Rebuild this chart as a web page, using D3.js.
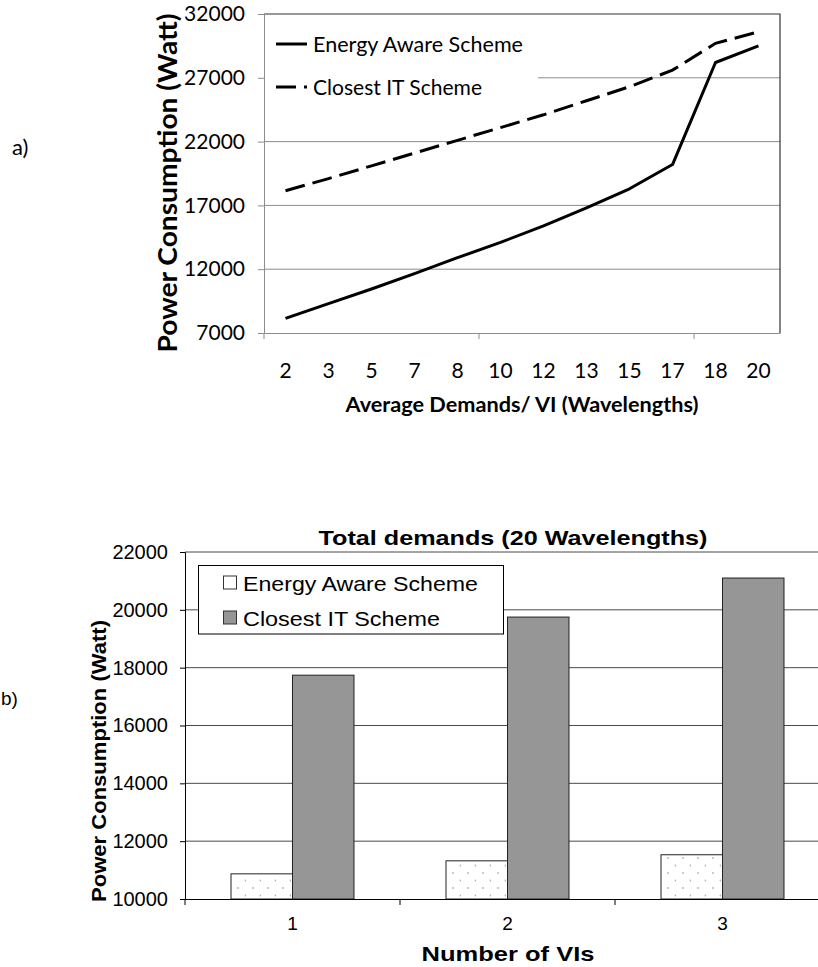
<!DOCTYPE html>
<html>
<head>
<meta charset="utf-8">
<script src="https://cdn.jsdelivr.net/npm/d3@7"></script>
<style>
  body { margin: 0; background: #fff; }
</style>
</head>
<body>
<svg id="chart"></svg>
<script>
// chart a) data
const demands = ["2", "3", "5", "7", "8", "10", "12", "13", "15", "17", "18", "20"];
const energyAware = [8150, 9300, 10450, 11650, 12900, 14100, 15400, 16800, 18300, 20200, 28200, 29500];
const closestIT = [18150, 19100, 20100, 21100, 22100, 23100, 24100, 25200, 26300, 27600, 29700, 30600];
const aTicks = [7000, 12000, 17000, 22000, 27000, 32000];

// chart b) data
const vis = ["1", "2", "3"];
const energyAwareB = [10870, 11320, 11530];
const closestITB = [17740, 19750, 21100];
const bTicks = [10000, 12000, 14000, 16000, 18000, 20000, 22000];

const calibri = "Lato, 'Open Sans', sans-serif";
const arial = "'Liberation Sans', Arial, sans-serif";

const svg = d3.select("#chart").attr("width", 818).attr("height", 967);

// ---------- a) line chart ----------
const ax = d3.scaleBand().domain(demands).range([264, 780]);
const axIdx = d3.scaleLinear().domain([0, demands.length]).range([264, 780]);
const ay = d3.scaleLinear().domain([7000, 32000]).range([333, 14]);

svg.append("g")
  .selectAll("line")
  .data(aTicks.slice(1, -1))
  .enter().append("line")
  .attr("x1", 264).attr("x2", 780)
  .attr("y1", d => ay(d)).attr("y2", d => ay(d))
  .attr("stroke", "#8c8c8c").attr("stroke-width", 1);

// legend background hides the grid behind it
svg.append("rect").attr("x", 265).attr("y", 16).attr("width", 273).attr("height", 90).attr("fill", "#fff");

// plot border top / right
svg.append("path")
  .attr("d", `M264,${ay(32000)}H780V${ay(7000)}`)
  .attr("fill", "none").attr("stroke", "#333").attr("stroke-width", 1.2);

const ayAxis = svg.append("g")
  .attr("transform", "translate(264,0)")
  .call(d3.axisLeft(ay).tickValues(aTicks).tickSize(6).tickPadding(13).tickFormat(d3.format("d")));
ayAxis.select(".domain").attr("stroke", "#8c8c8c");
ayAxis.selectAll(".tick line").attr("stroke", "#8c8c8c");
ayAxis.selectAll("text").attr("font-family", calibri).attr("font-size", 21).attr("fill", "#000");

const axAxis = svg.append("g")
  .attr("transform", `translate(0,${ay(7000)})`)
  .call(d3.axisBottom(ax).tickSize(0).tickPadding(30));
axAxis.select(".domain").attr("stroke", "#8c8c8c");
axAxis.selectAll("text").attr("font-family", calibri).attr("font-size", 21).attr("fill", "#000");

// tick marks every 5 categories
svg.append("g")
  .selectAll("line")
  .data([0, 5, 10])
  .enter().append("line")
  .attr("x1", d => axIdx(d)).attr("x2", d => axIdx(d))
  .attr("y1", ay(7000)).attr("y2", ay(7000) + 6)
  .attr("stroke", "#8c8c8c");

const lineA = d3.line()
  .x((d, i) => ax(demands[i]) + ax.bandwidth() / 2)
  .y(d => ay(d));

svg.append("path")
  .datum(energyAware)
  .attr("d", lineA)
  .attr("fill", "none").attr("stroke", "#000").attr("stroke-width", 3)
  .attr("stroke-linejoin", "round");

svg.append("path")
  .datum(closestIT)
  .attr("d", lineA)
  .attr("fill", "none").attr("stroke", "#000").attr("stroke-width", 3)
  .attr("stroke-dasharray", "20,8");

// legend a
const legA = [
  { name: "Energy Aware Scheme", dash: null, y: 44, w: 210 },
  { name: "Closest IT Scheme", dash: "20,8", y: 87, w: 169 }
];
legA.forEach(l => {
  svg.append("line")
    .attr("x1", 276).attr("x2", 307).attr("y1", l.y).attr("y2", l.y)
    .attr("stroke", "#000").attr("stroke-width", 3)
    .attr("stroke-dasharray", l.dash);
  svg.append("text")
    .attr("x", 313).attr("y", l.y + 8)
    .attr("font-family", calibri).attr("font-size", 22)
    .attr("textLength", l.w).attr("lengthAdjust", "spacingAndGlyphs")
    .text(l.name);
});

svg.append("text")
  .attr("transform", "translate(177,183)rotate(-90)")
  .attr("text-anchor", "middle")
  .attr("font-family", calibri).attr("font-size", 26).attr("font-weight", "bold")
  .attr("textLength", 339).attr("lengthAdjust", "spacingAndGlyphs")
  .text("Power Consumption (Watt)");

svg.append("text")
  .attr("x", 522).attr("y", 412)
  .attr("text-anchor", "middle")
  .attr("font-family", calibri).attr("font-size", 20).attr("font-weight", "bold")
  .attr("textLength", 353).attr("lengthAdjust", "spacingAndGlyphs")
  .text("Average Demands/ VI (Wavelengths)");

svg.append("text")
  .attr("x", 12).attr("y", 155)
  .attr("font-family", calibri).attr("font-size", 22)
  .text("a)");

// ---------- b) bar chart ----------
const defs = svg.append("defs");
const pat = defs.append("pattern")
  .attr("id", "dots").attr("patternUnits", "userSpaceOnUse")
  .attr("width", 15).attr("height", 15);
pat.append("rect").attr("width", 15).attr("height", 15).attr("fill", "#fff");
pat.append("circle").attr("cx", 7).attr("cy", 3).attr("r", 0.9).attr("fill", "#b4b4b4");
pat.append("circle").attr("cx", 14.5).attr("cy", 10.5).attr("r", 0.9).attr("fill", "#b4b4b4");

const bx0 = d3.scaleBand().domain(vis).range([185, 830]).paddingInner(0.428).paddingOuter(0.214);
const bIdx = d3.scaleLinear().domain([0, vis.length]).range([185, 830]);
const series = ["Energy Aware Scheme", "Closest IT Scheme"];
const bx1 = d3.scaleBand().domain(series).range([0, bx0.bandwidth()]);
const by = d3.scaleLinear().domain([10000, 22000]).range([899, 552]);
const fills = ["url(#dots)", "#969696"];

svg.append("g")
  .selectAll("line")
  .data(bTicks.slice(1))
  .enter().append("line")
  .attr("x1", 185).attr("x2", 830)
  .attr("y1", d => by(d)).attr("y2", d => by(d))
  .attr("stroke", "#4a4a4a").attr("stroke-width", 1);

const rows = vis.map((v, i) => ({ v, vals: [energyAwareB[i], closestITB[i]] }));
svg.append("g")
  .selectAll("g")
  .data(rows)
  .enter().append("g")
  .attr("transform", d => `translate(${bx0(d.v)},0)`)
  .selectAll("rect")
  .data(d => d.vals.map((val, k) => ({ s: series[k], val, k })))
  .enter().append("rect")
  .attr("x", d => bx1(d.s))
  .attr("y", d => by(d.val))
  .attr("width", bx1.bandwidth())
  .attr("height", d => by(10000) - by(d.val))
  .attr("fill", d => fills[d.k])
  .attr("stroke", "#222").attr("stroke-width", 1);

const byAxis = svg.append("g")
  .attr("transform", "translate(185,0)")
  .call(d3.axisLeft(by).tickValues(bTicks).tickSize(5).tickPadding(12).tickFormat(d3.format("d")));
byAxis.selectAll("text").attr("font-family", arial).attr("font-size", 20).attr("fill", "#000");

const bxAxis = svg.append("g")
  .attr("transform", `translate(0,${by(10000)})`)
  .call(d3.axisBottom(bx0).tickSize(0).tickPadding(18));
bxAxis.selectAll("text").attr("font-family", arial).attr("font-size", 19).attr("fill", "#000");

svg.append("g")
  .selectAll("line")
  .data(d3.range(vis.length + 1))
  .enter().append("line")
  .attr("x1", d => bIdx(d)).attr("x2", d => bIdx(d))
  .attr("y1", by(10000)).attr("y2", by(10000) + 6)
  .attr("stroke", "#000");

// legend b
svg.append("rect")
  .attr("x", 198.5).attr("y", 565.5).attr("width", 305).attr("height", 68.5)
  .attr("fill", "#fff").attr("stroke", "#000").attr("stroke-width", 1);
series.forEach((s, k) => {
  const cy = 583 + k * 35;
  svg.append("rect")
    .attr("x", 223.5).attr("y", cy - 7).attr("width", 13).attr("height", 13)
    .attr("fill", k === 0 ? "#fff" : fills[1]).attr("stroke", "#333");
  svg.append("text")
    .attr("x", 243).attr("y", cy + 7.5)
    .attr("font-family", arial).attr("font-size", 21)
    .attr("textLength", k === 0 ? 235 : 197).attr("lengthAdjust", "spacingAndGlyphs")
    .text(s);
});

svg.append("text")
  .attr("x", 513).attr("y", 545)
  .attr("text-anchor", "middle")
  .attr("font-family", arial).attr("font-size", 21).attr("font-weight", "bold")
  .attr("textLength", 389).attr("lengthAdjust", "spacingAndGlyphs")
  .text("Total demands (20 Wavelengths)");

svg.append("text")
  .attr("transform", "translate(106,761)rotate(-90)")
  .attr("text-anchor", "middle")
  .attr("font-family", arial).attr("font-size", 21).attr("font-weight", "bold")
  .attr("textLength", 282).attr("lengthAdjust", "spacingAndGlyphs")
  .text("Power Consumption (Watt)");

svg.append("text")
  .attr("x", 508).attr("y", 961)
  .attr("text-anchor", "middle")
  .attr("font-family", arial).attr("font-size", 21).attr("font-weight", "bold")
  .attr("textLength", 173).attr("lengthAdjust", "spacingAndGlyphs")
  .text("Number of VIs");

svg.append("text")
  .attr("x", 1).attr("y", 705)
  .attr("font-family", arial).attr("font-size", 19)
  .text("b)");
</script>
</body>
</html>
